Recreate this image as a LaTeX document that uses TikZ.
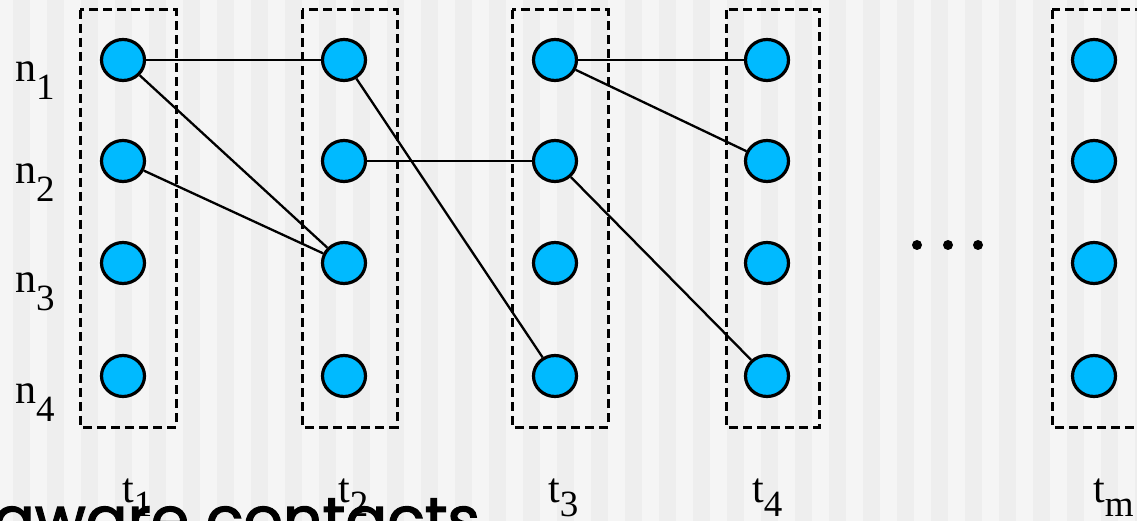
\documentclass[tikz,border=0pt]{standalone}
\usepackage{fontspec}
\setmainfont{Liberation Serif}
\newfontfamily\comicfont[FakeBold=2]{Poppins}
\usetikzlibrary{shapes.geometric}
\definecolor{stripelight}{HTML}{F5F5F5}
\definecolor{stripedark}{HTML}{EEEEEE}
\definecolor{nodeblue}{RGB}{0,186,255}
\tikzset{
  pt/.style={ellipse, draw=black, line width=3.2pt, fill=nodeblue, minimum width=43pt, minimum height=41pt, inner sep=0pt},
  slotbox/.style={draw=black, line width=3pt, dash pattern=on 9pt off 5pt},
  link/.style={draw=black, line width=2.3pt},
  lab/.style={inner sep=0pt, anchor=base west, font=\fontsize{42}{44}\selectfont},
}
\newcommand{\subs}[2][-18pt]{\raisebox{#1}{\fontsize{37}{39}\selectfont #2}}
\begin{document}
\begin{tikzpicture}[x=1pt,y=-1pt]
\useasboundingbox (0,0) rectangle (1137,521);
\clip (0,0) rectangle (1137,521);
% striped background
\fill[stripelight] (0,0) rectangle (1137,521);
\foreach \k in {0,...,33} {
  \fill[stripedark] ({13.3+34*\k},0) rectangle ({30.3+34*\k},521);
}
% dashed slot boxes
\draw[slotbox] (80,10) rectangle (176,427);
\draw[slotbox] (302,10) rectangle (397,427);
\draw[slotbox] (512,10) rectangle (608,427);
\draw[slotbox] (726,10) rectangle (819,427);
\draw[slotbox] (1052,10) rectangle (1150,427);
% nodes
\foreach \c/\x in {1/123,2/344,3/555,4/767,m/1094} {
  \node[pt] (c\c r1) at (\x,60) {};
  \node[pt] (c\c r2) at (\x,161) {};
  \node[pt] (c\c r3) at (\x,263) {};
  \node[pt] (c\c r4) at (\x,376) {};
}
% connectors
\draw[link] (c1r1) -- (c2r1);
\draw[link] (c1r1) -- (c2r3);
\draw[link] (c1r2) -- (c2r3);
\draw[link] (c2r1) -- (c3r4);
\draw[link] (c2r2) -- (c3r2);
\draw[link] (c3r1) -- (c4r1);
\draw[link] (c3r1) -- (c4r2);
\draw[link] (c3r2) -- (c4r4);
% ellipsis dots
\fill (917,245) circle (5pt) (948,245) circle (5pt) (978,245) circle (5pt);
% row labels
\node[lab] (n1) at (15,82) {n\subs{1}};
\node[lab] (n2) at (15,184) {n\subs{2}};
\node[lab] (n3) at (15,292) {n\subs{3}};
\node[lab] (n4) at (15,403) {n\subs{4}};
% column labels
\node[lab] (t1) at (122,502) {t\subs[-14pt]{1}};
\node[lab] (t2) at (338,502) {t\subs[-14pt]{2}};
\node[lab] (t3) at (548,502) {t\subs[-14pt]{3}};
\node[lab] (t4) at (752,502) {t\subs[-14pt]{4}};
\node[lab] (tm) at (1093,502) {t\subs[-14pt]{m}};
% partial title
\node[inner sep=0pt, anchor=base east, font=\comicfont\fontsize{62}{64}\selectfont] (title) at (480,541) {aware contacts};
\end{tikzpicture}
\end{document}
